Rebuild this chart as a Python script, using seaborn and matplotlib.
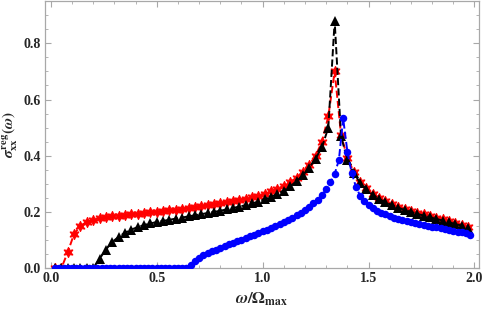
import numpy as np
import matplotlib
matplotlib.use("Agg")
import matplotlib.pyplot as plt
import seaborn as sns
from matplotlib.ticker import MultipleLocator

# sampling grids (omega / Omega_max)
x_coarse = np.round(0.02 + 0.03 * np.arange(66), 2)
x_fine = np.round(0.02 + 0.02 * np.arange(99), 2)

# red stars
sigma_red = [
    0.0, 0.0, 0.057, 0.122, 0.150, 0.165, 0.172, 0.177, 0.181, 0.184,
    0.187, 0.189, 0.191, 0.194, 0.196, 0.198, 0.201, 0.203, 0.206, 0.208,
    0.211, 0.214, 0.217, 0.220, 0.223, 0.227, 0.230, 0.234, 0.238, 0.242,
    0.247, 0.252, 0.258, 0.265, 0.273, 0.282, 0.293, 0.306, 0.322, 0.342,
    0.367, 0.400, 0.450, 0.540, 0.700, 0.475, 0.392, 0.343, 0.308, 0.284,
    0.265, 0.250, 0.238, 0.228, 0.219, 0.211, 0.204, 0.197, 0.191, 0.185,
    0.179, 0.173, 0.167, 0.161, 0.155, 0.147,
]

# black triangles
sigma_black = [
    0.0, 0.0, 0.0, 0.0, 0.0, 0.0, 0.0, 0.033, 0.066, 0.093,
    0.111, 0.126, 0.137, 0.146, 0.153, 0.159, 0.164, 0.168, 0.172, 0.176,
    0.180, 0.184, 0.188, 0.192, 0.196, 0.200, 0.204, 0.209, 0.214, 0.219,
    0.224, 0.230, 0.237, 0.245, 0.254, 0.264, 0.276, 0.291, 0.309, 0.330,
    0.357, 0.390, 0.430, 0.500, 0.880, 0.470, 0.385, 0.338, 0.304, 0.280,
    0.261, 0.246, 0.234, 0.224, 0.215, 0.207, 0.200, 0.193, 0.187, 0.181,
    0.175, 0.169, 0.163, 0.157, 0.151, 0.143,
]

# blue circles
sigma_blue = [0.0] * 32 + [
    0.012, 0.024, 0.036, 0.045, 0.053, 0.060, 0.066, 0.072, 0.078, 0.084,
    0.090, 0.096, 0.101, 0.107, 0.113, 0.119, 0.125, 0.131, 0.137, 0.143,
    0.150, 0.157, 0.164, 0.171, 0.179, 0.188, 0.197, 0.207, 0.218, 0.230,
    0.244, 0.260, 0.280, 0.305, 0.335, 0.385, 0.533, 0.415, 0.340, 0.290,
    0.258, 0.238, 0.224, 0.213, 0.204, 0.197, 0.191, 0.185, 0.180, 0.176,
    0.172, 0.168, 0.164, 0.160, 0.157, 0.154, 0.151, 0.148, 0.145, 0.142,
    0.139, 0.136, 0.133, 0.130, 0.127, 0.124, 0.118,
]

sns.set_style("ticks")
plt.rcParams["font.family"] = ["Liberation Serif", "DejaVu Serif"]
plt.rcParams["font.weight"] = "bold"
plt.rcParams["mathtext.fontset"] = "stix"

fig = plt.figure(figsize=(4.85, 3.11), dpi=100)
ax = fig.add_axes([0.093, 0.138, 0.894, 0.859])

sns.lineplot(x=x_coarse, y=sigma_red, ax=ax, color="#ff0000", linestyle="--",
             linewidth=1.4, marker=(6, 1, 0), markersize=7.5, markeredgewidth=0.7,
             markeredgecolor="#ff0000", sort=False, errorbar=None, zorder=2)
sns.lineplot(x=x_coarse, y=sigma_black, ax=ax, color="black", linestyle="--",
             linewidth=1.4, marker="^", markersize=7.5, markeredgewidth=0,
             sort=False, errorbar=None, zorder=3)
sns.lineplot(x=x_fine, y=sigma_blue, ax=ax, color="#0000ff", linestyle="--",
             linewidth=1.4, marker="o", markersize=5.4, markeredgewidth=0,
             sort=False, errorbar=None, zorder=4)

ax.set_xlim(-0.027, 2.02)
ax.set_ylim(0, 0.951)
ax.xaxis.set_major_locator(MultipleLocator(0.5))
ax.xaxis.set_minor_locator(MultipleLocator(0.1))
ax.yaxis.set_major_locator(MultipleLocator(0.2))
ax.yaxis.set_minor_locator(MultipleLocator(0.05))

for side in ["top", "right", "bottom", "left"]:
    ax.spines[side].set_visible(True)
    ax.spines[side].set_color("#a8a8a8")
    ax.spines[side].set_linewidth(0.9)

ax.tick_params(which="both", direction="in", top=True, right=True,
               color="#a8a8a8", labelsize=10, pad=3)
ax.tick_params(which="major", length=4, width=0.8)
ax.tick_params(which="minor", length=2, width=0.6)

ax.set_xlabel(r"$\omega/\Omega_{\mathbf{max}}$", fontsize=12, labelpad=4)
ax.set_ylabel(r"$\sigma_{\mathbf{xx}}^{\mathbf{reg}}(\omega)$", fontsize=11)
ax.yaxis.set_label_coords(-0.058, 0.5)

fig.savefig("out.png", dpi=100)
